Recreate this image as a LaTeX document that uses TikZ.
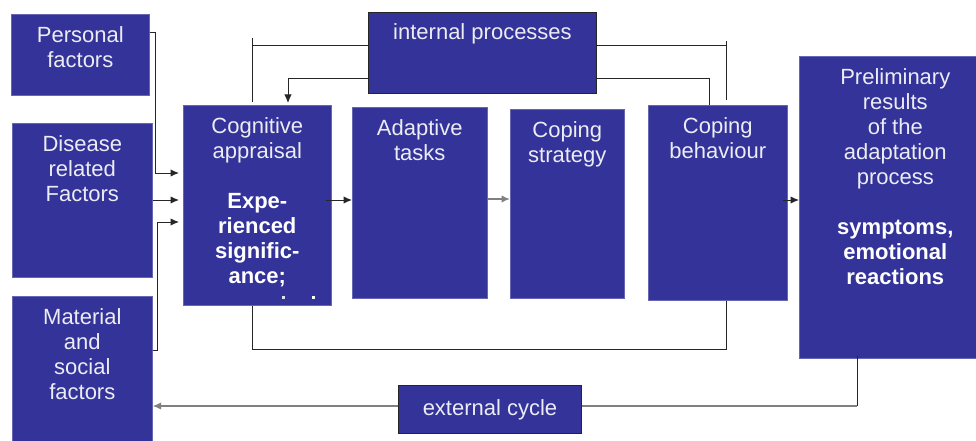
\documentclass[tikz,border=0pt]{standalone}
\usepackage{fontspec}
\setmainfont{Liberation Sans}
\usetikzlibrary{arrows.meta}

\definecolor{boxblue}{RGB}{51,51,153}
\definecolor{softwhite}{RGB}{236,236,244}

\tikzset{
  block/.style={fill=boxblue, draw=boxblue!75!white, line width=0.6pt,
                inner sep=0pt, anchor=north west},
  framed/.style={block, draw=black!85, line width=1pt},
  boxtext/.style={text=softwhite, align=center, inner sep=0pt, anchor=north,
                  font=\fontsize{22}{25}\selectfont},
  ln/.style={draw=black!85, line width=1pt},
  arr/.style={ln, -{Latex[length=8.5pt,width=7.5pt]}},
  greyarr/.style={draw=black!50, line width=1.6pt, -{Latex[length=8.5pt,width=7.5pt]}},
}

\begin{document}
\begin{tikzpicture}[x=1pt,y=-1pt]
  \useasboundingbox (0,0) rectangle (976,441);
  \clip (0,0) rectangle (976,441);

  % input factors
  \node[block, minimum width=138pt, minimum height=81pt]  (pers) at (11,14) {};
  \node[block, minimum width=140pt, minimum height=154pt] (dis)  at (12,123) {};
  \node[block, minimum width=140pt, minimum height=152pt] (mat)  at (12,296) {};

  % process chain
  \node[block, minimum width=148pt, minimum height=200pt] (cog)  at (183,105) {};
  \node[block, minimum width=135pt, minimum height=191pt] (adap) at (352,107) {};
  \node[block, minimum width=114pt, minimum height=189pt] (cstr) at (510,109) {};
  \node[block, minimum width=139pt, minimum height=195pt] (cbeh) at (648,105) {};
  \node[block, minimum width=192pt, minimum height=302pt] (prel) at (799,56) {};

  % cycle labels
  \node[framed, minimum width=228pt, minimum height=81pt] (intp) at (368,12) {};
  \node[framed, minimum width=183pt, minimum height=48pt, anchor=north west,
        text=softwhite, font=\fontsize{22}{25}\selectfont] (ext) at (398,385) {external cycle};

  % box texts
  \node[boxtext] (perst) at ([yshift=-10.5pt]pers.north) {\strut Personal\\factors};
  \node[boxtext] (dist)  at ([yshift=-10.5pt]dis.north)  {\strut Disease\\related\\Factors};
  \node[boxtext] (matt)  at ([yshift=-10.5pt]mat.north)  {\strut Material\\and\\social\\factors};
  \node[boxtext] (cogt)  at ([yshift=-10.5pt]cog.north)
    {\strut Cognitive\\appraisal\\[25pt]\color{white}\bfseries Expe-\\\color{white}\bfseries rienced\\\color{white}\bfseries signific-\\\color{white}\bfseries ance;};
  \node[boxtext] (adapt) at ([yshift=-10.5pt]adap.north) {\strut Adaptive\\tasks};
  \node[boxtext] (cstrt) at ([yshift=-10.5pt]cstr.north) {\strut Coping\\strategy};
  \node[boxtext] (cbeht) at ([yshift=-10.5pt]cbeh.north) {\strut Coping\\behaviour};
  \node[boxtext] (prelt) at ([yshift=-10.5pt]prel.north)
    {\strut Preliminary\\results\\of the\\adaptation\\process\\[25pt]\color{white}\bfseries symptoms,\\\color{white}\bfseries emotional\\\color{white}\bfseries reactions};
  \node[boxtext] (intpt) at ([yshift=-10pt]intp.north) {\strut internal processes};

  % clipped text remnants at the foot of the appraisal box
  \fill[white!85!boxblue] (282,296) rectangle (284.5,298.5);
  \fill[white] (312,296) rectangle (315,299);

  % factors feeding the appraisal
  \draw[arr, shorten >=4pt] (pers.east |- 0,33) -- ++(6,0) |- (cog.west |- 0,173);
  \draw[arr, shorten >=4pt] (dis.east |- 0,200) -- (cog.west |- 0,200);
  \draw[arr, shorten >=4pt] (mat.east |- 0,350) -- ++(5,0) |- (cog.west |- 0,222);

  % main chain
  \draw[arr] ([xshift=-6pt]cog.east |- 0,200) -- (adap.west |- 0,200);
  \draw[greyarr] (adap.east |- 0,199) -- (cstr.west |- 0,199);
  \draw[arr] ([xshift=-5pt]cbeh.east |- 0,200) -- (prel.west |- 0,200);

  % internal processes: outer bracket
  \draw[ln] ([yshift=3pt]cog.north -| 252,0) -- (252,38);
  \draw[ln] (252,46) -- (intp.west |- 0,46);
  \draw[ln] (intp.east |- 0,46) -- (726,46);
  \draw[ln] (726,41) -- ([yshift=5pt]cbeh.north -| 726,0);

  % internal processes: feedback into the appraisal
  \draw[ln] (cbeh.north -| 709,0) -- (709,79) -- (intp.east |- 0,79);
  \draw[arr, shorten >=2pt] (intp.west |- 0,79) -| (cog.north -| 288,0);

  % lower bracket
  \draw[ln] (cog.south -| 252,0) |- (726,349) -- (cbeh.south -| 726,0);

  % external cycle
  \draw[ln] ([yshift=3pt]prel.south -| 857,0) -- (857,406);
  \draw[draw=black!50, line width=1.6pt] (857,406) -- (ext.east |- 0,406);
  \draw[greyarr] (ext.west |- 0,406) -- (mat.east |- 0,406);
\end{tikzpicture}
\end{document}
